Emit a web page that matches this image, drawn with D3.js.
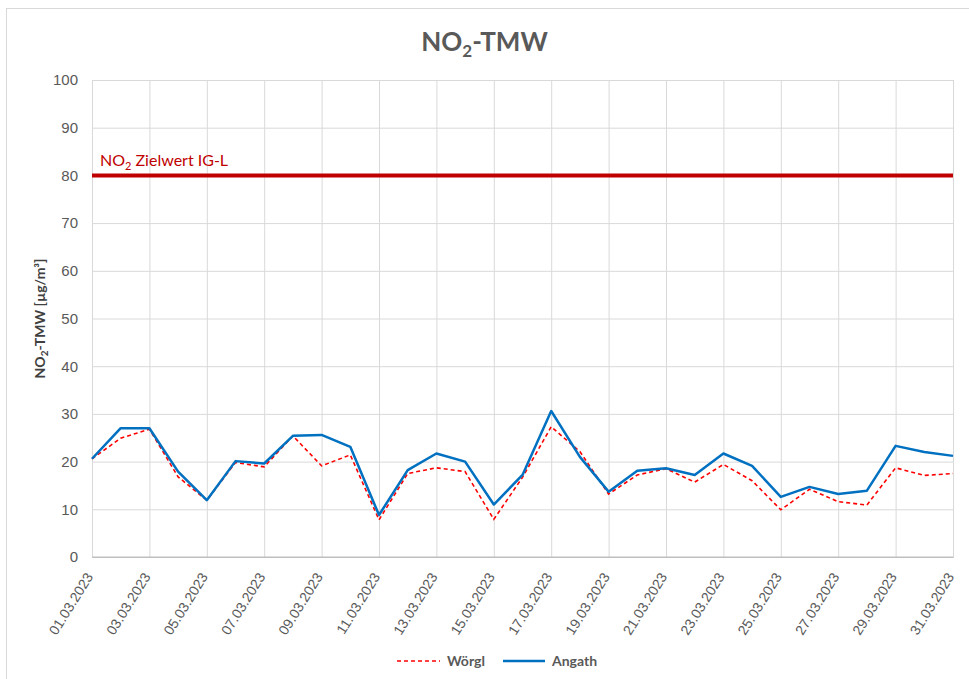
<!DOCTYPE html>
<html>
<head>
<meta charset="utf-8">
<script src="https://cdn.jsdelivr.net/npm/d3@7"></script>
<style>
  body { margin: 0; background: #fff; }
  svg { display: block; font-family: Lato, "Open Sans", sans-serif; }
</style>
</head>
<body>
<div class="chart"></div>
<script>
const WIDTH = 969;
const HEIGHT = 679;
const MARGIN = {top: 80, right: 16, bottom: 122, left: 92};

// daily dates, March 2023
var dates = ["01.03.2023","02.03.2023","03.03.2023","04.03.2023","05.03.2023","06.03.2023",
    "07.03.2023","08.03.2023","09.03.2023","10.03.2023","11.03.2023","12.03.2023","13.03.2023",
    "14.03.2023","15.03.2023","16.03.2023","17.03.2023","18.03.2023","19.03.2023","20.03.2023",
    "21.03.2023","22.03.2023","23.03.2023","24.03.2023","25.03.2023","26.03.2023","27.03.2023",
    "28.03.2023","29.03.2023","30.03.2023","31.03.2023"];

var woergl = [20.6, 24.9, 26.8, 16.8, 11.9, 19.8, 18.9, 25.4, 19.1, 21.4, 7.8,
    17.5, 18.7, 17.9, 7.9, 16.7, 27.3, 22.1, 13.2, 17.2,
    18.5, 15.7, 19.4, 16.0, 9.9, 14.2, 11.6, 10.9, 18.7, 17.1, 17.5];

var angath = [20.6, 27.0, 27.0, 17.9, 11.9, 20.1, 19.6, 25.4, 25.6, 23.1, 8.8,
    18.2, 21.7, 20.0, 11.0, 17.2, 30.6, 21.0, 13.7, 18.1,
    18.6, 17.2, 21.7, 19.1, 12.6, 14.7, 13.2, 13.9, 23.3, 22.0, 21.2];

var yTicks = [0, 10, 20, 30, 40, 50, 60, 70, 80, 90, 100];
var zielwert = 80;

var xScale, yScale, plot;

var translate = function (x, y) {
    return "translate(" + x + "," + y + ")";
};

var drawChart = function () {
    var innerW = WIDTH - MARGIN.left - MARGIN.right;
    var innerH = HEIGHT - MARGIN.top - MARGIN.bottom;

    var svg = d3.select(".chart").append("svg")
        .attr("width", WIDTH)
        .attr("height", HEIGHT);

    // chart frame (runs past the right/bottom edge like the screenshot)
    svg.append("rect")
        .attr("x", 6.5).attr("y", 8.5)
        .attr("width", WIDTH + 20).attr("height", HEIGHT + 20)
        .attr("fill", "#fff").attr("stroke", "#d9d9d9");

    xScale = d3.scalePoint().domain(dates).range([0, innerW]);
    yScale = d3.scaleLinear().domain([0, 100]).range([innerH, 0]);

    plot = svg.append("g").attr("transform", translate(MARGIN.left, MARGIN.top));

    // horizontal grid + y labels
    var yAxis = d3.axisLeft(yScale).tickValues(yTicks).tickSize(-innerW).tickPadding(14);
    var gy = plot.append("g").call(yAxis);
    gy.select(".domain").remove();
    gy.selectAll(".tick line").attr("stroke", "#d9d9d9").attr("stroke-width", 1);
    gy.selectAll(".tick text").attr("fill", "#595959").style("font-size", "15px");

    // vertical grid every second day
    var labelled = dates.filter(function (d, i) { return i % 2 === 0; });
    var xAxis = d3.axisBottom(xScale).tickValues(labelled).tickSize(-innerH).tickPadding(8);
    var gx = plot.append("g").attr("transform", translate(0, innerH)).call(xAxis);
    gx.select(".domain").attr("stroke", "#bfbfbf");
    gx.selectAll(".tick line").attr("stroke", "#d9d9d9");
    gx.selectAll(".tick text")
        .attr("fill", "#595959")
        .style("font-size", "14px")
        .attr("text-anchor", "end")
        .attr("x", 0).attr("y", 0)
        .attr("dy", "0.35em")
        .attr("transform", "translate(-3,17) rotate(-58)");
    plot.append("line")
        .attr("x1", 0).attr("x2", innerW)
        .attr("y1", innerH).attr("y2", innerH)
        .attr("stroke", "#bfbfbf");

    // limit line
    plot.append("line")
        .attr("x1", 0).attr("x2", innerW)
        .attr("y1", yScale(zielwert)).attr("y2", yScale(zielwert))
        .attr("stroke", "#c00000").attr("stroke-width", 4);

    var lbl = plot.append("text")
        .attr("x", 8).attr("y", yScale(zielwert) - 9)
        .attr("fill", "#c00000").style("font-size", "16px");
    lbl.append("tspan").text("NO");
    lbl.append("tspan").attr("dy", 4).style("font-size", "11px").text("2");
    lbl.append("tspan").attr("dy", -4).text(" Zielwert IG-L");

    var line = d3.line()
        .x(function (d, i) { return xScale(dates[i]); })
        .y(function (d) { return yScale(d); });

    plot.append("path")
        .attr("d", line(woergl))
        .attr("fill", "none")
        .attr("stroke", "#ff0000")
        .attr("stroke-width", 1.6)
        .attr("stroke-dasharray", "4,3");

    plot.append("path")
        .attr("d", line(angath))
        .attr("fill", "none")
        .attr("stroke", "#0070c0")
        .attr("stroke-width", 2.5)
        .attr("stroke-linejoin", "round");

    // title
    var title = svg.append("text")
        .attr("x", WIDTH / 2).attr("y", 51)
        .attr("text-anchor", "middle")
        .attr("fill", "#595959")
        .style("font-size", "26px").style("font-weight", "bold");
    title.append("tspan").text("NO");
    title.append("tspan").attr("dy", 6).style("font-size", "17px").text("2");
    title.append("tspan").attr("dy", -6).text("-TMW");

    // y axis title
    var yt = svg.append("text")
        .attr("transform", translate(45, MARGIN.top + innerH / 2) + " rotate(-90)")
        .attr("text-anchor", "middle")
        .attr("fill", "#404040")
        .style("font-size", "14px").style("font-weight", "bold");
    yt.append("tspan").text("NO");
    yt.append("tspan").attr("dy", 3).style("font-size", "10px").text("2");
    yt.append("tspan").attr("dy", -3).text("-TMW [µg/m³]");

    // legend
    var legend = svg.append("g").attr("transform", translate(397, 661));
    legend.append("line")
        .attr("x1", 0).attr("x2", 43).attr("y1", 0).attr("y2", 0)
        .attr("stroke", "#ff0000").attr("stroke-width", 1.6).attr("stroke-dasharray", "4,3");
    legend.append("text").attr("x", 50).attr("y", 5)
        .attr("fill", "#595959").style("font-size", "14px").style("font-weight", "bold")
        .text("Wörgl");
    legend.append("line")
        .attr("x1", 106).attr("x2", 148).attr("y1", 0).attr("y2", 0)
        .attr("stroke", "#0070c0").attr("stroke-width", 2.5);
    legend.append("text").attr("x", 155).attr("y", 5)
        .attr("fill", "#595959").style("font-size", "14px").style("font-weight", "bold")
        .text("Angath");
};

window.onload = drawChart;
</script>
</body>
</html>
